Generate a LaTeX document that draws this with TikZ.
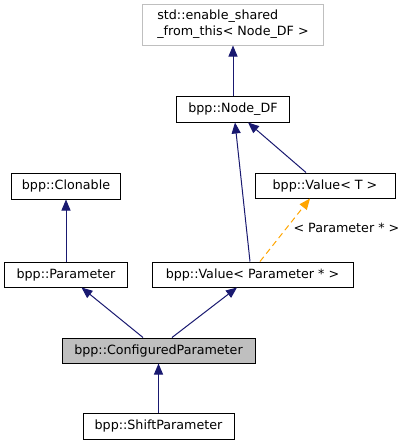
\documentclass[tikz,border=0pt]{standalone}
\usepackage{fontspec}
\setmainfont{DejaVu Sans}
\usetikzlibrary{arrows.meta}

\definecolor{edgeblue}{HTML}{191970}
\definecolor{edgeorange}{HTML}{FFA500}
\definecolor{boxgray}{HTML}{BFBFBF}

\begin{document}
\begin{tikzpicture}[x=1pt, y=-1pt,
    cls/.style={draw=black, line width=1pt, inner sep=0pt, minimum height=25pt,
        font=\fontsize{12.7}{16}\selectfont},
    extcls/.style={cls, draw=boxgray},
    edge/.style={draw=edgeblue, line width=1pt, -{Triangle[width=9pt,length=11pt]}},
    tmpledge/.style={draw=edgeorange, line width=1pt, dash pattern=on 6pt off 4pt,
        -{Triangle[width=9pt,length=11pt]}}]
    \useasboundingbox (0,0) rectangle (408,445);

    % Draw the class boxes
    \node[extcls, minimum width=181pt, minimum height=41pt, align=left] (esft) at (233,24.5)
        {std::enable\_shared\\\_from\_this< Node\_DF >};
    \node[cls, minimum width=113pt, minimum height=26pt] (ndf) at (233,109) {bpp::Node\_DF};
    \node[cls, minimum width=140pt] (vt) at (325,185.5) {bpp::Value< T >};
    \node[cls, minimum width=109pt, minimum height=26pt] (cl) at (66,186) {bpp::Clonable};
    \node[cls, minimum width=123pt] (par) at (66,274.5) {bpp::Parameter};
    \node[cls, minimum width=201pt] (vp) at (252.5,274.5) {bpp::Value< Parameter * >};
    \node[cls, fill=boxgray, minimum width=193pt] (cp) at (158.5,350.5) {bpp::ConfiguredParameter};
    \node[cls, minimum width=151pt, minimum height=26pt] (sp) at (158.5,426) {bpp::ShiftParameter};

    % Draw the inheritance arrows
    \draw[edge] (ndf) -- (esft);
    \draw[edge] ([xshift=-19pt]vt.north) -- ([xshift=15pt]ndf.south);
    \draw[edge] ([xshift=-2.5pt]vp.north) -- ([xshift=2pt]ndf.south);
    \draw[edge] (par) -- (cl);
    \draw[edge] ([xshift=-15.5pt]cp.north) -- ([xshift=15.5pt]par.south);
    \draw[edge] ([xshift=13.5pt]cp.north) -- ([xshift=-15.5pt]vp.south);
    \draw[edge] (sp) -- (cp);

    % Draw the template instance arrow
    \draw[tmpledge] ([xshift=7.5pt]vp.north) -- ([xshift=-15pt]vt.south)
        node[pos=0.5, anchor=west, inner sep=0pt, xshift=8pt, yshift=2pt,
            font=\fontsize{12.7}{16}\selectfont] (tlbl) {< Parameter * >};

\end{tikzpicture}
\end{document}
